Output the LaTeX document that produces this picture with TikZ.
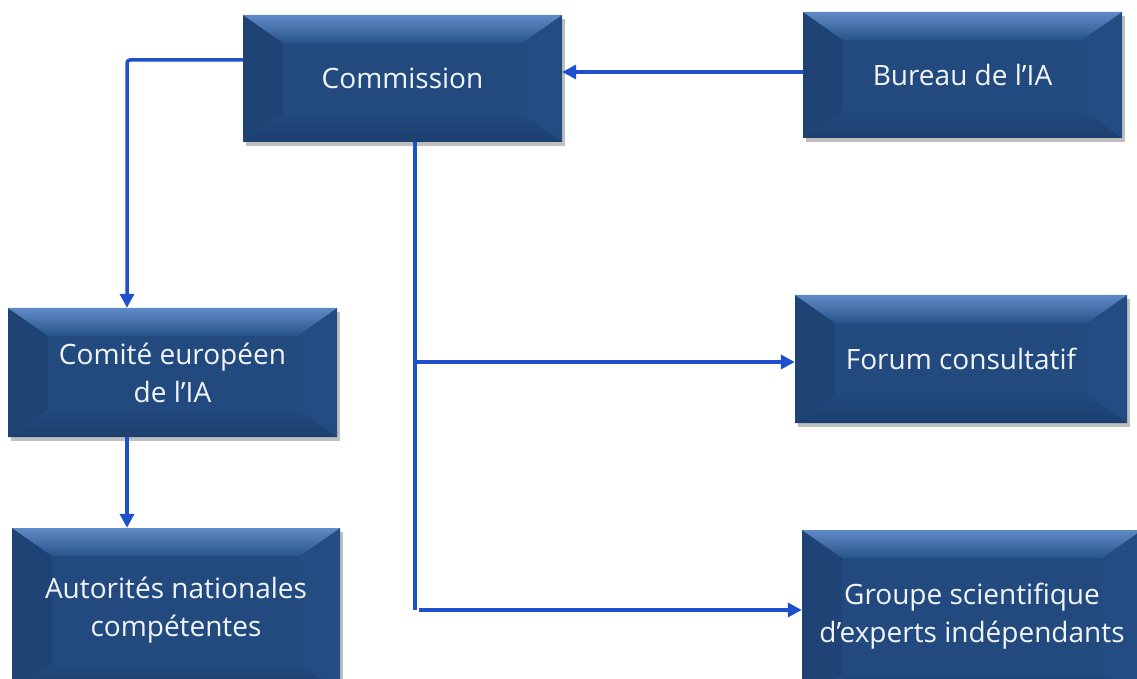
\documentclass[tikz,border=0pt]{standalone}
\usepackage{fontspec}
\setmainfont{Open Sans}
\usetikzlibrary{arrows.meta,shadows,calc}
\definecolor{boxmain}{RGB}{34,74,127}
\definecolor{bevtop}{RGB}{96,138,198}
\definecolor{bevtopin}{RGB}{40,84,140}
\definecolor{bevleft}{RGB}{30,67,116}
\definecolor{bevright}{RGB}{35,76,130}
\definecolor{bevbot}{RGB}{28,63,110}
\definecolor{linkc}{RGB}{30,80,205}
\definecolor{txt}{RGB}{242,245,248}
\tikzset{
  bevelbox/.style={rectangle, fill=boxmain, text=txt, align=center,
    font=\fontsize{28}{38}\selectfont, inner sep=0pt,
    drop shadow={shadow xshift=3pt,shadow yshift=-4pt,opacity=0.25,fill=black},
    path picture={
      \path (path picture bounding box.north west) coordinate (pnw)
            (path picture bounding box.north east) coordinate (pne)
            (path picture bounding box.south west) coordinate (psw)
            (path picture bounding box.south east) coordinate (pse);
      \fill[bevleft] (pnw) -- ($(pnw)+(40pt,-28pt)$) -- ($(psw)+(40pt,28pt)$) -- (psw) -- cycle;
      \fill[bevright] (pne) -- ($(pne)+(-40pt,-28pt)$) -- ($(pse)+(-40pt,28pt)$) -- (pse) -- cycle;
      \shade[top color=boxmain, bottom color=bevbot] (psw) -- ($(psw)+(40pt,28pt)$) -- ($(pse)+(-40pt,28pt)$) -- (pse) -- cycle;
      \shade[top color=bevtop, bottom color=bevtopin] (pnw) -- (pne) -- ($(pne)+(-40pt,-28pt)$) -- ($(pnw)+(40pt,-28pt)$) -- cycle;
    }},
  link/.style={line width=3.5pt, draw=linkc, -{Triangle[length=14pt,width=14pt]}},
  trunk/.style={line width=3.5pt, draw=linkc}
}
\begin{document}
\begin{tikzpicture}[x=1pt,y=1pt]
\useasboundingbox (0,0) rectangle (1137,678);
\clip (0,0) rectangle (1137,678);
\node[bevelbox, minimum width=319pt, minimum height=127pt] (comm) at (402.5,599.5) {Commission};
\node[bevelbox, minimum width=319pt, minimum height=126pt] (bureau) at (962.5,603) {Bureau de l’IA};
\node[bevelbox, minimum width=332pt, minimum height=128pt] (forum) at (961,319) {Forum consultatif};
\node[bevelbox, minimum width=329pt, minimum height=129pt] (comite) at (172.5,305.5) {Comité européen\\de l’IA};
\node[bevelbox, minimum width=328pt, minimum height=164pt] (auto) at (176,68) {Autorités nationales\\compétentes};
\node[bevelbox, minimum width=340pt, minimum height=172pt] (groupe) at (972,62) {Groupe scientifique\\d’experts indépendants};
% Commission -> Comité
\draw[link, rounded corners=3pt] ([yshift=18.5pt]comm.west) -| ([xshift=-45.5pt]comite.north);
% Comité -> Autorités
\coordinate (cs) at ([xshift=-45.5pt]comite.south);
\draw[link] (cs) -- (cs |- auto.north);
% Bureau -> Commission
\coordinate (bw) at ([yshift=3pt]bureau.west);
\draw[link] (bw) -- (bw -| comm.east);
% trunk
\coordinate (t0) at ([xshift=12.5pt]comm.south);
\coordinate (t1) at (415,68);
\draw[trunk] (t0) -- (t1);
\coordinate (fw) at ([yshift=-3pt]forum.west);
\draw[link] (t0 |- fw) -- (fw);
\draw[link] ([xshift=4pt]t1) -- (t1 -| groupe.west);
\end{tikzpicture}
\end{document}
